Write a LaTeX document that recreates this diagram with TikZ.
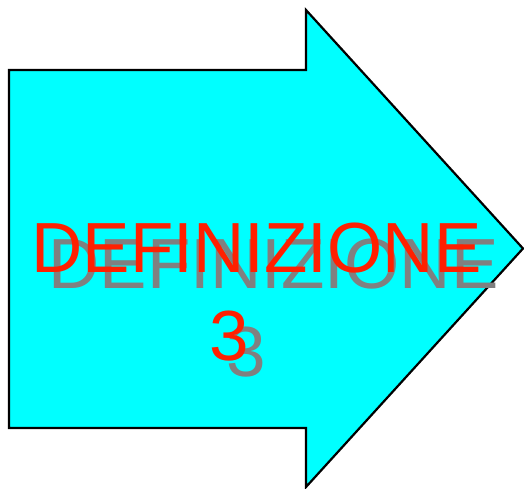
\documentclass[tikz,border=0pt]{standalone}
\usepackage{fontspec}
\setmainfont{Liberation Sans}
\definecolor{arrowfill}{RGB}{0,255,255}
\definecolor{txtred}{RGB}{255,32,0}
\definecolor{txtgray}{RGB}{128,128,128}
\tikzset{
  arrowshape/.style={fill=arrowfill,draw=black,line width=2.2pt,line join=miter},
  bigtext/.style={font=\fontsize{71}{88}\selectfont,inner sep=0pt,anchor=base},
  redtext/.style={bigtext,text=txtred},
  graytext/.style={bigtext,text=txtgray}
}
\begin{document}
\begin{tikzpicture}[x=1pt,y=-1pt]
\useasboundingbox (0,0) rectangle (524,489);
\draw[arrowshape] (9,70) -- (306,70) -- (306,10) -- (523,248.5) -- (306,487) -- (306,428) -- (9,428) -- cycle;
\node[graytext] (g1) at (273.5,288) {DEFINIZIONE};
\node[graytext] (g2) at (246.5,376) {3};
\node[redtext] (r1) at (256.5,272) {DEFINIZIONE};
\node[redtext] (r2) at (229.5,360) {3};
\end{tikzpicture}
\end{document}
